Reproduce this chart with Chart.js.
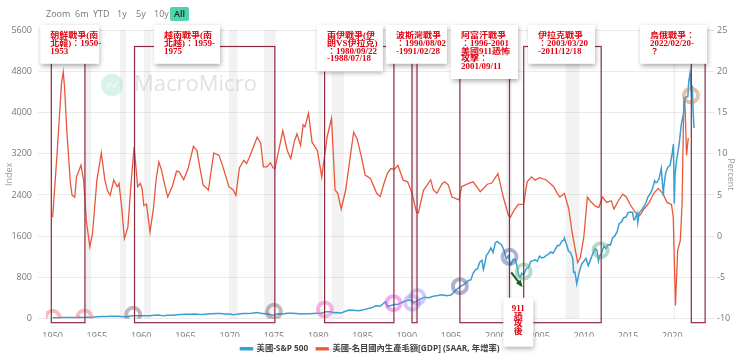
<!DOCTYPE html>
<html>
<head>
<meta charset="utf-8">
<script src="https://cdn.jsdelivr.net/npm/chart.js@4.4.1/dist/chart.umd.min.js"></script>
<style>
  html, body { margin: 0; padding: 0; background: #fff; }
  #wrap { position: relative; width: 740px; height: 363px; }
  #zoom { position: absolute; left: 46px; top: 7px; font: 9px "Open Sans", sans-serif; color: #777; }
  #zoom span { position: absolute; top: 0; line-height: 14px; white-space: nowrap; }
  #zoom .on { background: #4fd3ad; color: #222; padding: 0 4px; border-radius: 2px; font-weight: 600; }
</style>
</head>
<body>
<div id="wrap">
  <canvas id="myChart" width="740" height="363"></canvas>
  <div id="zoom">
    <span style="left:0">Zoom</span>
    <span style="left:29px">6m</span>
    <span style="left:47px">YTD</span>
    <span style="left:71px">1y</span>
    <span style="left:90px">5y</span>
    <span style="left:108px">10y</span>
    <span class="on" style="left:124px">All</span>
  </div>
</div>
<script>
// S&P 500 (left axis, index)
const spYears = [1950,1950.5,1951,1951.5,1952,1952.5,1953,1953.5,1954,1954.5,1955,1955.5,1956,1956.5,1957,1957.5,1958,1958.5,1959,1959.5,
  1960,1960.5,1961,1961.5,1962,1962.5,1963,1963.5,1964,1964.5,1965,1965.5,1966,1966.5,1967,1967.5,1968,1968.5,1969,1969.5,
  1970,1970.4,1970.7,1971,1971.5,1972,1972.5,1973,1973.5,1974,1974.5,1974.8,1975,1975.5,1976,1976.5,1977,1977.5,1978,1978.5,
  1979,1979.5,1980,1980.25,1980.5,1980.9,1981.25,1981.5,1981.75,1982,1982.5,1982.75,1983,1983.5,1984,1984.5,1985,1985.5,1986,1986.5,
  1987,1987.6,1987.85,1988,1988.5,1989,1989.5,1990,1990.5,1990.8,1991,1991.5,1992,1992.5,1993,1993.5,1994,1994.5,1995,1995.5,
  1996,1996.5,1997,1997.25,1997.5,1997.75,1998,1998.25,1998.5,1998.65,1998.75,1999,1999.25,1999.5,1999.75,2000,2000.2,2000.5,2000.7,2001,
  2001.25,2001.5,2001.7,2001.8,2002,2002.25,2002.5,2002.6,2002.8,2003,2003.2,2003.5,2003.75,2004,2004.25,2004.5,2004.75,2005,2005.25,2005.5,
  2005.75,2006,2006.25,2006.5,2006.75,2007,2007.25,2007.5,2007.75,2007.8,2008,2008.25,2008.5,2008.75,2008.85,2009,2009.2,2009.5,2009.75,2010,
  2010.25,2010.5,2010.75,2011,2011.3,2011.5,2011.65,2011.8,2012,2012.25,2012.5,2012.75,2013,2013.25,2013.5,2013.75,2014,2014.25,2014.5,2014.75,
  2015,2015.25,2015.5,2015.65,2015.75,2016,2016.1,2016.25,2016.5,2016.75,2017,2017.25,2017.5,2017.75,2018,2018.1,2018.25,2018.5,2018.75,2018.98,
  2019,2019.25,2019.5,2019.75,2020,2020.12,2020.22,2020.3,2020.5,2020.75,2021,2021.25,2021.5,2021.75,2021.85,2022,2022.1,2022.2,2022.25,2022.35,2022.45];
const spValues = [17,18,21,21,24,25,26,24,26,29,36,41,45,49,46,47,40,45,55,59,
  59,56,58,66,71,55,66,69,75,82,85,84,92,84,80,91,96,99,103,92,
  92,75,84,92,99,102,107,118,104,97,86,68,70,95,90,104,107,100,89,95,
  96,102,108,102,114,136,135,131,116,122,110,120,140,168,165,153,167,191,211,250,
  242,330,230,247,272,278,318,353,361,305,330,380,417,408,436,450,466,444,459,544,
  616,670,741,757,885,947,970,1101,1133,957,1017,1229,1286,1372,1283,1469,1498,1455,1436,1320,
  1160,1224,1040,1060,1148,1147,990,860,800,880,848,975,996,1112,1126,1140,1114,1212,1180,1191,
  1228,1248,1294,1270,1335,1418,1420,1503,1526,1565,1468,1322,1280,1166,900,903,676,919,1057,1115,
  1169,1030,1141,1258,1360,1320,1120,1220,1258,1408,1362,1440,1426,1569,1606,1682,1848,1872,1960,1972,
  2059,2068,2063,1920,1920,2044,1860,2060,2099,2168,2239,2363,2423,2519,2674,2640,2640,2718,2914,2400,
  2507,2834,2942,2977,3231,3386,2237,2800,3100,3363,3756,3973,4297,4307,4600,4766,4500,4300,4530,4000,3700];

// Nominal GDP, SAAR y/y % (right axis)
const gdpYears = [1950,1950.5,1951,1951.2,1951.35,1951.6,1952,1952.2,1952.5,1952.7,1953.2,1953.5,1953.8,1954.2,1954.5,1955,1955.5,1955.9,1956.2,1956.5,
  1956.9,1957.3,1957.5,1957.8,1958.1,1958.5,1958.9,1959.2,1959.4,1959.6,1959.9,1960.1,1960.3,1960.6,1961,1961.4,1961.7,1962,1962.3,1962.6,
  1963,1963.5,1964,1964.3,1964.8,1965.3,1965.9,1966.3,1966.6,1967,1967.6,1968.2,1968.8,1969.3,1969.9,1970.4,1970.7,1971.1,1971.6,1971.9,
  1972.2,1972.6,1973.1,1973.5,1973.8,1974.2,1974.6,1974.9,1975.1,1975.5,1976,1976.5,1976.9,1977.3,1977.6,1978,1978.3,1978.5,1978.9,1979.3,
  1979.9,1980.4,1981,1981.5,1981.9,1982.2,1982.6,1983.1,1983.6,1984,1984.4,1984.9,1985.3,1985.9,1986.6,1987,1987.4,1987.8,1988.2,1988.6,
  1989,1989.6,1990.1,1990.6,1991.1,1991.3,1991.9,1992.3,1992.7,1993,1993.4,1994,1994.3,1994.7,1995.1,1995.9,1996.2,1997,1997.5,1998.3,
  1999.1,1999.6,2000.3,2000.9,2001.5,2001.7,2002.1,2002.6,2003.2,2003.6,2004.1,2004.5,2005,2005.7,2006.2,2006.6,2007,2007.3,2007.8,2008.3,
  2008.7,2009.3,2009.6,2010,2010.4,2010.7,2011.3,2011.7,2012.1,2012.6,2013.1,2013.4,2013.9,2014.4,2014.8,2015.2,2015.8,2016.3,2016.8,2017.4,
  2017.9,2018.4,2018.9,2019.4,2019.9,2020.1,2020.35,2020.6,2020.9,2021.1,2021.3,2021.45,2021.6,2021.8];
const gdpValues = [2.3,10,18.5,19.9,18,12.8,6.5,4.95,4.75,7.2,8.6,6.8,1.9,-1.3,0.3,6.8,10.1,6.8,5.5,4.95,
  6.8,6,6.4,3.5,-0.3,1.1,7,10.8,8.5,6,6.4,5.8,3.7,3.9,0.5,3.5,7,9,8,6.5,
  4.75,6,7.9,7.8,6.85,8.2,10.9,10.4,8.5,6.2,5.6,10.1,9.8,8.2,6,5.6,4.95,8.3,9.2,8.8,
  9.5,10.6,12,11.3,8.4,8.4,8.9,8.3,8.2,10.2,12.8,10.4,9.4,11.5,12.4,11,13.5,13.25,14.9,11.4,
  10.4,7.2,12,14.3,5.6,5.2,3.3,5.6,9.5,12.6,11.8,9.5,7.4,7,5.2,4.8,6.3,7.6,8.2,8.1,
  8.6,6.8,6.6,5.2,2.9,2.8,5.6,6.2,6.85,5.6,5.2,6.4,6.6,6.2,4.75,4.4,6,6.4,6.6,5.4,
  6.3,6.45,7.6,4.75,2.5,2.3,3.1,3.85,3.9,6.6,7.2,6.8,7.1,6.85,6.4,6,5.2,4.75,5.2,3.3,
  0.3,-3.2,-2.6,-0.1,4.75,4.3,3.65,3.5,4.75,4.1,4.3,3.3,4.3,5.1,4.75,3.9,2.9,2.5,3.3,4.1,
  5.2,5.8,5.2,4.1,3.85,2.3,-8.4,-1.7,-0.5,4,16.9,15.3,9.8,11.9];

const xTicks = [1950,1955,1960,1965,1970,1975,1980,1985,1990,1995,2000,2005,2010,2015,2020];

// recessions (gray bands)
const recStart = [1953.55,1957.6,1960.3,1969.9,1973.9,1980.0,1981.5,1990.55,2001.2,2007.95,2020.1];
const recEnd   = [1954.35,1958.3,1961.1,1970.9,1975.2,1980.5,1982.9,1991.2,2001.9,2009.5,2020.35];

// wars
const warStart = [1949.85,1959.25,1980.72,1990.59,1996.0,2003.21,2022.14];
const warEnd   = [1953.65,1975.1,1988.55,1991.16,2001.6,2011.96,2023.7];
const warText = [
  ['朝鮮戰爭(南','北韓)：1950-','1953'],
  ['越南戰爭(南','北越)：1959-','1975'],
  ['兩伊戰爭(伊','朗VS伊拉克)','：1980/09/22','-1988/07/18'],
  ['波斯灣戰爭','：1990/08/02','-1991/02/28'],
  ['阿富汗戰爭','：1996-2001','美國911恐怖','攻擊：','2001/09/11'],
  ['伊拉克戰爭','：2003/03/20','-2011/12/18'],
  ['烏俄戰爭：','2022/02/20-','？']
];
const labelLeftYear = [1948.6,1961.45,1979.85,1987.65,1995.0,2003.7,2016.35];
const labelWidth = [59,66,66,61,67,67,67];

// marked points on S&P 500
const ringYears  = [1950,1953.6,1959.1,1975.0,1980.75,1988.5,1990.6,1991.2,1996.0,2001.6,2003.2,2011.9,2022.1];
const ringValues = [17,24,75,135,180,300,310,420,630,1200,915,1330,4330];
const ringColors = ['rgba(238,120,130,0.5)','rgba(238,125,135,0.5)','rgba(120,95,105,0.45)','rgba(120,95,105,0.45)',
  'rgba(235,110,200,0.5)','rgba(230,90,230,0.5)','rgba(170,145,240,0.5)','rgba(170,150,240,0.5)',
  'rgba(85,105,160,0.5)','rgba(85,105,170,0.5)','rgba(100,190,140,0.5)','rgba(100,180,140,0.5)','rgba(195,150,110,0.55)'];

const overlay = {
  id: 'overlay',
  beforeDatasetsDraw(chart) {
    const { ctx, chartArea: a, scales: { x } } = chart;
    ctx.save();
    ctx.fillStyle = 'rgba(0,0,0,0.05)';
    recStart.forEach((s, i) => {
      const x0 = x.getPixelForValue(s), x1 = x.getPixelForValue(recEnd[i]);
      ctx.fillRect(x0, a.top, x1 - x0, a.bottom - a.top);
    });
    // watermark
    ctx.fillStyle = 'rgba(100,205,180,0.25)';
    ctx.beginPath();
    ctx.arc(a.left + 66, a.top + 55, 11, 0, Math.PI * 2);
    ctx.fill();
    ctx.strokeStyle = 'rgba(255,255,255,0.8)';
    ctx.lineWidth = 1.2;
    ctx.beginPath();
    ctx.moveTo(a.left + 60, a.top + 59);
    ctx.lineTo(a.left + 64, a.top + 53);
    ctx.lineTo(a.left + 68, a.top + 57);
    ctx.lineTo(a.left + 72, a.top + 51);
    ctx.stroke();
    ctx.fillStyle = 'rgba(170,170,170,0.35)';
    ctx.font = '22px "Open Sans", sans-serif';
    ctx.textBaseline = 'middle';
    ctx.fillText('MacroMicro', a.left + 88, a.top + 55);
    ctx.restore();
  },
  afterDatasetsDraw(chart) {
    const { ctx, chartArea: a, scales: { x, y, y1 } } = chart;
    ctx.save();
    // war boxes
    ctx.strokeStyle = '#8e2a40';
    ctx.lineWidth = 1.2;
    const top = y1.getPixelForValue(23);
    warStart.forEach((s, i) => {
      const x0 = x.getPixelForValue(s), x1 = x.getPixelForValue(warEnd[i]);
      ctx.strokeRect(x0, top, x1 - x0, a.bottom + 4 - top);
    });
    // arrow after 9/11
    const ax0 = x.getPixelForValue(2001.8), ay0 = y.getPixelForValue(900);
    const ax1 = x.getPixelForValue(2002.95), ay1 = y.getPixelForValue(640);
    ctx.strokeStyle = '#1d5a22';
    ctx.fillStyle = '#1d5a22';
    ctx.lineWidth = 2;
    ctx.beginPath(); ctx.moveTo(ax0, ay0); ctx.lineTo(ax1, ay1); ctx.stroke();
    const ang = Math.atan2(ay1 - ay0, ax1 - ax0);
    ctx.beginPath();
    ctx.moveTo(ax1 + 2 * Math.cos(ang), ay1 + 2 * Math.sin(ang));
    ctx.lineTo(ax1 - 6 * Math.cos(ang - 0.5), ay1 - 6 * Math.sin(ang - 0.5));
    ctx.lineTo(ax1 - 6 * Math.cos(ang + 0.5), ay1 - 6 * Math.sin(ang + 0.5));
    ctx.closePath(); ctx.fill();

    const drawBox = (left, boxTop, w, h, lines, centered) => {
      ctx.save();
      ctx.shadowColor = 'rgba(0,0,0,0.35)';
      ctx.shadowBlur = 5;
      ctx.shadowOffsetX = 1;
      ctx.shadowOffsetY = 2;
      ctx.fillStyle = '#fff';
      ctx.fillRect(left, boxTop, w, h);
      ctx.restore();
      ctx.save();
      ctx.fillStyle = '#e3000f';
      ctx.font = 'bold 9px "Liberation Serif", "Noto Sans CJK TC", serif';
      ctx.textBaseline = 'middle';
      ctx.textAlign = centered ? 'center' : 'left';
      ctx.translate(0, boxTop);
      ctx.scale(1, 0.85);
      lines.forEach((t, k) => {
        ctx.fillText(t, centered ? left + w / 2 : left + 10, (11.5 + k * 7.6) / 0.85);
      });
      ctx.restore();
    };
    warText.forEach((lines, i) => {
      drawBox(x.getPixelForValue(labelLeftYear[i]), a.top - 5, labelWidth[i], 16 + 7.6 * lines.length, lines, false);
    });
    // 911 note below the axis
    drawBox(x.getPixelForValue(2002.6) - 15, a.bottom - 21, 30, 49, ['911', '恐', '攻', '後'], true);
    ctx.restore();
  }
};

const ctx = document.getElementById('myChart');
const tickFont = { size: 9, family: 'Open Sans' };

new Chart(ctx, {
  type: 'line',
  data: {
    datasets: [
      {
        label: '美國-S&P 500',
        data: spYears.map((v, i) => ({ x: v, y: spValues[i] })),
        yAxisID: 'y',
        borderColor: '#3a9fd2',
        backgroundColor: '#3a9fd2',
        borderWidth: 1.5,
        pointRadius: 0,
        order: 1
      },
      {
        label: '美國-名目國內生產毛額[GDP] (SAAR, 年增率)',
        data: gdpYears.map((v, i) => ({ x: v, y: gdpValues[i] })),
        yAxisID: 'y1',
        borderColor: '#e9573b',
        backgroundColor: '#e9573b',
        borderWidth: 1.3,
        pointRadius: 0,
        order: 2
      },
      {
        label: 'marks',
        data: ringYears.map((v, i) => ({ x: v, y: ringValues[i] })),
        yAxisID: 'y',
        showLine: false,
        pointRadius: 7,
        pointBorderWidth: 4,
        pointBorderColor: ringColors,
        pointBackgroundColor: 'rgba(0,0,0,0)',
        order: 0
      }
    ]
  },
  options: {
    responsive: false,
    animation: false,
    layout: { padding: { top: 30, bottom: 0 } },
    scales: {
      x: {
        type: 'linear',
        min: 1949.25,
        max: 2023.8,
        afterBuildTicks: s => { s.ticks = xTicks.map(v => ({ value: v })); },
        afterFit: s => { s.height = 18; },
        ticks: { color: '#777', font: tickFont, callback: v => String(v), maxRotation: 0, padding: 4 },
        grid: { display: false },
        border: { display: false }
      },
      y: {
        position: 'left',
        min: 0,
        max: 5600,
        afterFit: s => { s.width = 46; },
        ticks: { stepSize: 800, color: '#777', font: tickFont, padding: 6, callback: v => String(v) },
        grid: { color: '#ebebeb' },
        border: { display: false },
        title: { display: true, text: 'Index', color: '#999', font: tickFont, padding: { top: 4, bottom: 0 } }
      },
      y1: {
        position: 'right',
        min: -10,
        max: 25,
        afterFit: s => { s.width = 34; },
        ticks: { stepSize: 5, color: '#777', font: tickFont, padding: 3 },
        grid: { drawOnChartArea: false },
        border: { display: false },
        title: { display: true, text: 'Percent', color: '#999', font: tickFont, padding: { top: 4, bottom: 0 } }
      }
    },
    plugins: {
      tooltip: { enabled: false },
      legend: {
        position: 'bottom',
        labels: {
          filter: item => item.datasetIndex < 2,
          boxWidth: 12,
          boxHeight: 2,
          color: '#444',
          font: { size: 8.3, weight: 'bold', family: '"Open Sans", "Noto Sans CJK TC"' },
          padding: 8
        }
      }
    }
  },
  plugins: [overlay]
});
</script>
</body>
</html>
